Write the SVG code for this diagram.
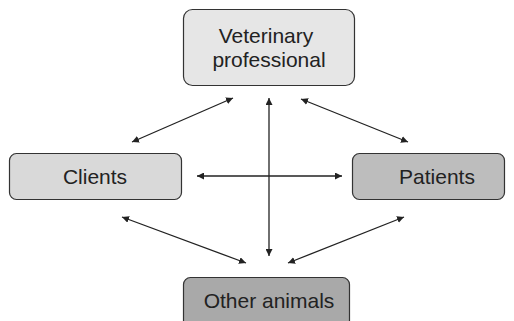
<svg xmlns="http://www.w3.org/2000/svg" width="514" height="321" viewBox="0 0 514 321">
  <style>
    .box { stroke: #333; stroke-width: 1.2; }
    .lbl { font-family: "Liberation Sans", Arial, sans-serif; font-size: 21px; fill: #222; text-anchor: middle; }
    .link { stroke: #222; stroke-width: 1.3; fill: none; marker-start: url(#head); marker-end: url(#head); }
  </style>
  <defs>
    <marker id="head" viewBox="0 0 10 10" refX="10" refY="5" markerWidth="7" markerHeight="7" orient="auto-start-reverse" markerUnits="userSpaceOnUse">
      <path d="M0,0 L10,5 L0,10 z" fill="#222"/>
    </marker>
  </defs>
  <rect width="514" height="321" fill="#fff"/>

  <g id="vet">
    <rect class="box" x="183.5" y="9.5" width="171" height="76" rx="9" fill="#e6e6e6"/>
    <text class="lbl" x="266" y="43">Veterinary</text>
    <text class="lbl" x="269" y="67">professional</text>
  </g>
  <g id="clients">
    <rect class="box" x="9.5" y="153.5" width="172" height="46" rx="7" fill="#d9d9d9"/>
    <text class="lbl" x="95" y="184">Clients</text>
  </g>
  <g id="patients">
    <rect class="box" x="352.5" y="153.5" width="152" height="46" rx="7" fill="#bdbdbd"/>
    <text class="lbl" x="437" y="184">Patients</text>
  </g>
  <g id="animals">
    <rect class="box" x="183.5" y="277.5" width="166" height="50" rx="7" fill="#a9a9a9"/>
    <text class="lbl" x="269" y="308">Other animals</text>
  </g>

  <g id="connectors">
    <line class="link" x1="132" y1="142" x2="233" y2="98"/>
    <line class="link" x1="269" y1="98" x2="269" y2="256"/>
    <line class="link" x1="301" y1="99" x2="408" y2="142"/>
    <line class="link" x1="197" y1="176" x2="342" y2="176"/>
    <line class="link" x1="122" y1="217" x2="246" y2="263"/>
    <line class="link" x1="288" y1="263" x2="404" y2="217"/>
  </g>
</svg>
